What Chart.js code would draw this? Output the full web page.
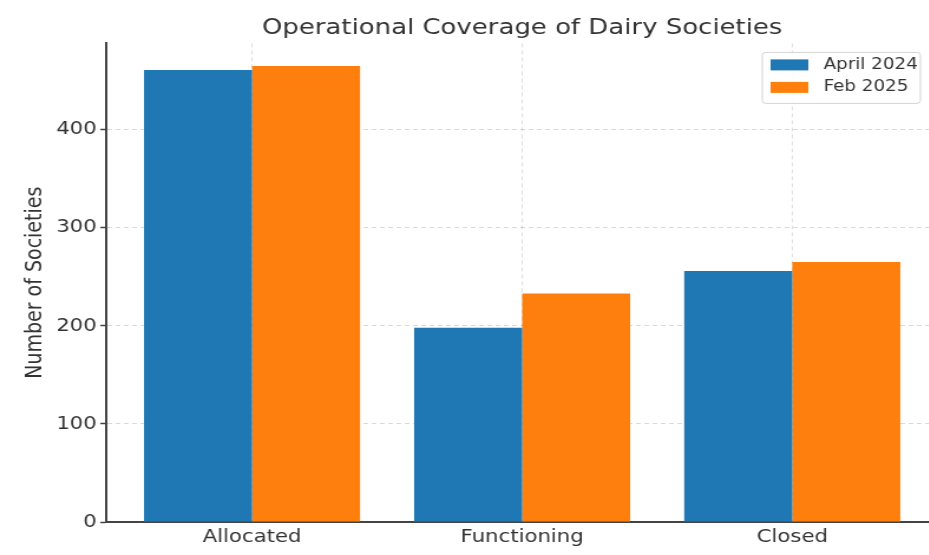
<!DOCTYPE html>
<html>
<head>
<meta charset="utf-8">
<script src="https://cdn.jsdelivr.net/npm/chart.js@4"></script>
<style>
  html, body { margin: 0; padding: 0; background: #fff; }
  #wrap { width: 929px; height: 555px; overflow: hidden; }
  /* the reference image is stretched horizontally, so the canvas is too */
  #myChart { transform: scaleX(1.18); transform-origin: 0 0; }
</style>
</head>
<body>
<div id="wrap"><canvas id="myChart" width="884" height="555"></canvas></div>
<script>
const categories = ['Allocated', 'Functioning', 'Closed'];
const april2024 = [461, 198, 256];
const feb2025 = [465, 233, 265];
const yTicks = [0, 100, 200, 300, 400];

const font = 'DejaVu Sans';
const textColor = '#333';

// matplotlib style legend box in the upper right of the plot
const legendBox = {
    id: 'legendBox',
    afterDatasetsDraw(chart) {
        const { ctx, chartArea } = chart;
        const x = chartArea.right - 149, y = chartArea.top + 9, w = 134, h = 51;
        ctx.save();
        ctx.fillStyle = 'rgba(255,255,255,0.85)';
        ctx.strokeStyle = '#d4d4d4';
        ctx.lineWidth = 1;
        ctx.beginPath();
        if (ctx.roundRect) ctx.roundRect(x, y, w, h, 3); else ctx.rect(x, y, w, h);
        ctx.fill();
        ctx.stroke();
        ctx.font = '15.5px "' + font + '"';
        ctx.textBaseline = 'middle';
        chart.data.datasets.forEach((ds, i) => {
            const ry = y + 12.5 + i * 22.5;
            ctx.fillStyle = ds.backgroundColor;
            ctx.fillRect(x + 7, ry - 5.5, 32, 11);
            ctx.fillStyle = textColor;
            ctx.fillText(ds.label, x + 52, ry);
        });
        ctx.restore();
    }
};

const myCanvas = document.getElementById('myChart').getContext('2d');

const myChart = new Chart(myCanvas, {
    type: 'bar',
    data: {
        datasets: [{
            label: 'April 2024',
            data: categories.map((c, i) => ({ x: i, y: april2024[i] })),
            backgroundColor: '#1f77b4',
        }, {
            label: 'Feb 2025',
            data: categories.map((c, i) => ({ x: i, y: feb2025[i] })),
            backgroundColor: '#ff7f0e',
        }],
    },
    options: {
        responsive: false,
        animation: false,
        barPercentage: 1.0,
        categoryPercentage: 0.8,
        layout: { padding: { left: 0, right: 89, top: 0, bottom: 0 } },
        scales: {
            x: {
                type: 'linear',
                offset: false,
                min: -0.54,
                max: 2.54,
                afterFit: (scale) => { scale.height = 33; },
                ticks: {
                    stepSize: 1,
                    includeBounds: false,
                    autoSkip: false,
                    maxRotation: 0,
                    padding: 5,
                    color: textColor,
                    font: { family: font, size: 18 },
                    callback: (v) => Number.isInteger(v) ? categories[v] : '',
                },
                grid: { offset: false, color: 'rgba(0,0,0,0.13)', drawTicks: false, tickBorderDash: [] },
                border: { color: '#444', width: 2, dash: [4, 3] },
            },
            y: {
                min: 0,
                max: 488,
                afterFit: (scale) => { scale.width = 90; },
                afterBuildTicks: (scale) => { scale.ticks = yTicks.map(v => ({ value: v })); },
                ticks: {
                    includeBounds: false,
                    padding: 3,
                    color: textColor,
                    font: { family: font, size: 18 },
                },
                grid: { color: 'rgba(0,0,0,0.15)', tickColor: '#444', tickLength: 5, tickWidth: 1.5, tickBorderDash: [] },
                border: { color: '#444', width: 2, dash: [4, 3] },
                title: {
                    display: true,
                    text: 'Number of Societies',
                    color: textColor,
                    font: { family: font, size: 19 },
                    padding: { top: 19, bottom: 0 },
                },
            }
        },
        plugins: {
            legend: { display: false },
            tooltip: { enabled: false },
            title: {
                display: true,
                fullSize: false,
                text: 'Operational Coverage of Dairy Societies',
                color: textColor,
                font: { family: font, size: 22, weight: 'normal' },
                padding: { top: 15, bottom: 2 },
            }
        }
    },
    plugins: [legendBox]
});
</script>
</body>
</html>
